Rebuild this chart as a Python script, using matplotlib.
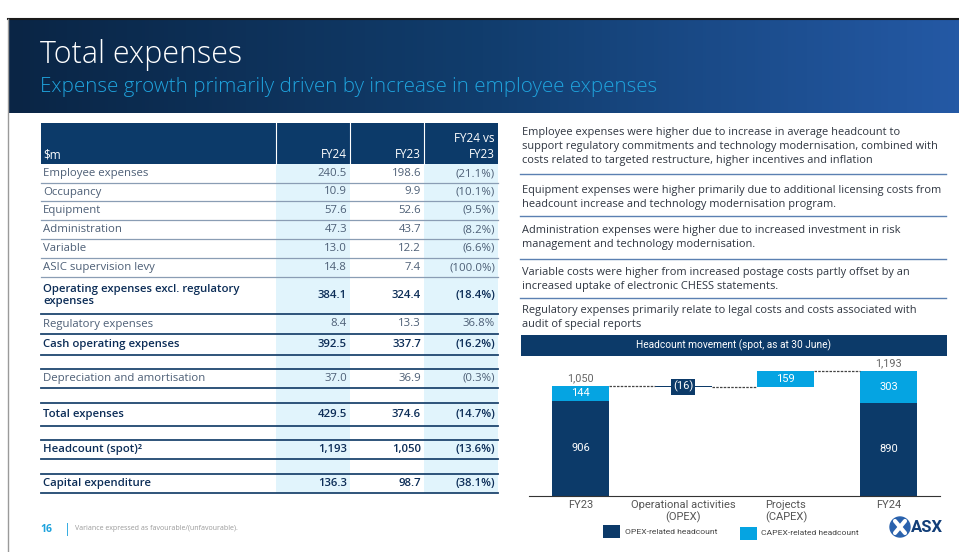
import numpy as np
import matplotlib
matplotlib.use('Agg')
import matplotlib.pyplot as plt
from matplotlib.colors import LinearSegmentedColormap
from matplotlib.patches import Rectangle, Circle

plt.rcParams['font.family'] = ['Open Sans', 'DejaVu Sans']

NAVY = '#0c3a69'
LBLUE = '#05a4e2'
SHADE = '#e1f4fc'
GREY_TXT = '#4d5f76'

# ---- table data ----
row_labels = ['Employee expenses', 'Occupancy', 'Equipment', 'Administration', 'Variable',
              'ASIC supervision levy', 'Operating expenses excl. regulatory\nexpenses',
              'Regulatory expenses', 'Cash operating expenses', '',
              'Depreciation and amortisation', '', 'Total expenses', '',
              'Headcount (spot)²', '', 'Capital expenditure']
fy24 = [240.5, 10.9, 57.6, 47.3, 13.0, 14.8, 384.1, 8.4, 392.5, None, 37.0, None, 429.5, None, 1193, None, 136.3]
fy23 = [198.6, 9.9, 52.6, 43.7, 12.2, 7.4, 324.4, 13.3, 337.7, None, 36.9, None, 374.6, None, 1050, None, 98.7]
variance = [-21.1, -10.1, -9.5, -8.2, -6.6, -100.0, -18.4, 36.8, -16.2, None, -0.3, None, -14.7, None, -13.6, None, -38.1]
bold_rows = [6, 8, 12, 14, 16]

# ---- commentary ----
comments = [
    ['Employee expenses were higher due to increase in average headcount to',
     'support regulatory commitments and technology modernisation, combined with',
     'costs related to targeted restructure, higher incentives and inflation'],
    ['Equipment expenses were higher primarily due to additional licensing costs from',
     'headcount increase and technology modernisation program.'],
    ['Administration expenses were higher due to increased investment in risk',
     'management and technology modernisation.'],
    ['Variable costs were higher from increased postage costs partly offset by an',
     'increased uptake of electronic CHESS statements.'],
    ['Regulatory expenses primarily relate to legal costs and costs associated with',
     'audit of special reports'],
]

# ---- headcount waterfall ----
categories = ['FY23', 'Operational activities\n(OPEX)', 'Projects\n(CAPEX)', 'FY24']
opex_hc = [906, -16, 0, 890]
capex_hc = [144, 0, 159, 303]

fig = plt.figure(figsize=(9.59, 5.52), dpi=100)
ax = fig.add_axes([0, 0, 1, 1])

# header band with gradient
cmap = LinearSegmentedColormap.from_list('hdr', ['#0a2545', '#113d6d', '#2459a5'])
ax.imshow(np.linspace(0, 1, 256).reshape(1, -1), extent=(8, 959, 113, 19), aspect='auto', cmap=cmap)
ax.set_xlim(0, 959)
ax.set_ylim(552, 0)
ax.axis('off')
ax.plot([8, 959], [19, 19], color='#1a1a1a', lw=1.5)
ax.plot([8, 8], [19, 552], color='#9a9a9a', lw=1)

ax.text(40, 63, 'Total expenses', color='white', fontsize=22, fontweight='light', va='baseline')
ax.text(40, 92, 'Expense growth primarily driven by increase in employee expenses',
        color='#1fa3dd', fontsize=14.8, fontweight='light', va='baseline')

# table
col_x = [41, 276, 350, 424, 498]
ax.add_patch(Rectangle((41, 123), 457, 41, color=NAVY, lw=0))
for x in col_x[1:4]:
    ax.plot([x, x], [123, 164], color='white', lw=0.8)
for x0, x1 in [(276, 350), (424, 498)]:
    ax.add_patch(Rectangle((x0, 164), x1 - x0, 329, color=SHADE, lw=0))
ax.text(43, 155, '$m', color='white', fontsize=8.5, va='center')
ax.text(347, 155, 'FY24', color='white', fontsize=8.5, va='center', ha='right')
ax.text(421, 155, 'FY23', color='white', fontsize=8.5, va='center', ha='right')
ax.text(495, 139, 'FY24 vs', color='white', fontsize=8.5, va='center', ha='right')
ax.text(495, 155, 'FY23', color='white', fontsize=8.5, va='center', ha='right')

row_edges = [164, 183, 201, 220, 239, 258, 277, 314, 334, 355, 369, 388, 403, 426, 440, 459, 474, 493]


def fmt_num(v):
    if v is None:
        return ''
    if v >= 1000:
        return f'{v:,.0f}'
    return f'{v:.1f}'


def fmt_var(v):
    if v is None:
        return ''
    return f'({abs(v):.1f}%)' if v < 0 else f'{v:.1f}%'


for i, lab in enumerate(row_labels):
    yc = (row_edges[i] + row_edges[i + 1]) / 2
    b = i in bold_rows
    c = '#0c2d57' if b else GREY_TXT
    w = 'semibold' if b else 'normal'
    ax.text(43, yc, lab, color=c, fontsize=8.2, fontweight=w, va='center', linespacing=1.15)
    ax.text(347, yc, fmt_num(fy24[i]), color=c, fontsize=8.2, fontweight=w, va='center', ha='right')
    ax.text(421, yc, fmt_num(fy23[i]), color=c, fontsize=8.2, fontweight=w, va='center', ha='right')
    ax.text(495, yc, fmt_var(variance[i]), color=c, fontsize=8.2, fontweight=w, va='center', ha='right')

for y in row_edges[1:]:
    if y < 300:
        ax.plot([41, 498], [y, y], color='#8a9db4', lw=0.9)
    else:
        ax.plot([41, 498], [y, y], color='#1f466f', lw=1.3)

# commentary
para_y = [133, 190, 231, 273, 310]
for lines, y0 in zip(comments, para_y):
    for k, line in enumerate(lines):
        ax.text(522, y0 + k * 14, line, color='#2e3540', fontsize=7.9, va='center')
for y in [174, 216, 259, 298]:
    ax.plot([520, 946], [y, y], color='#5b80b2', lw=1)

cf = ['Roboto', 'DejaVu Sans']

# chart title band
ax.add_patch(Rectangle((521, 335), 426, 21, color=NAVY, lw=0))
ax.text(734, 345.5, 'Headcount movement (spot, as at 30 June)', color='white', fontsize=7.3,
        ha='center', va='center', family=cf)

# legend
ax.add_patch(Rectangle((603, 525), 17, 13, color=NAVY, lw=0))
ax.text(625, 532, 'OPEX-related headcount', color='#444444', fontsize=6.1, va='center', family=cf)
ax.add_patch(Rectangle((740, 527), 17, 13, color=LBLUE, lw=0))
ax.text(761, 533, 'CAPEX-related headcount', color='#444444', fontsize=6.1, va='center', family=cf)

# footer
ax.text(40, 529, '16', color='#1fa3dd', fontsize=7.5, fontweight='bold', va='center')
ax.text(64, 529, '|', color='#1fa3dd', fontsize=9, va='center')
ax.text(75, 529, 'Variance expressed as favourable/(unfavourable).', color='#999999', fontsize=5, va='center')

# logo
ax.add_patch(Circle((900, 527), 10, color='#2a62ad'))
ax.plot([895, 905], [521, 533], color='white', lw=3, solid_capstyle='round')
ax.plot([895, 905], [533, 521], color='white', lw=3, solid_capstyle='round')
ax.text(911, 528, 'ASX', color='#123e78', fontsize=12, fontweight='bold', va='center', family=cf)

# ---- waterfall chart ----
W, H = 959, 552
cax = fig.add_axes([529 / W, (H - 496) / H, 411 / W, 140 / H])
cax.set_xlim(-0.5, 3.5)
cax.set_ylim(0, 1333)
bw = 0.555
x = np.arange(len(categories))

running = opex_hc[0] + capex_hc[0]
cax.bar(0, opex_hc[0], bw, color=NAVY)
cax.bar(0, capex_hc[0], bw, bottom=opex_hc[0], color=LBLUE)
# OPEX movement
step_bottom = running + min(opex_hc[1], 0)
cax.bar(1, abs(opex_hc[1]), bw, bottom=step_bottom, color=NAVY)
running += opex_hc[1]
# CAPEX movement
cax.bar(2, capex_hc[2], bw, bottom=running, color=LBLUE)
proj_bottom = running
running += capex_hc[2]
cax.bar(3, opex_hc[3], bw, color=NAVY)
cax.bar(3, capex_hc[3], bw, bottom=opex_hc[3], color=LBLUE)

txt_kw = dict(ha='center', va='center', color='white', fontsize=8, family=cf)
cax.text(0, opex_hc[0] / 2, f'{opex_hc[0]}', **txt_kw)
cax.text(0, opex_hc[0] + capex_hc[0] / 2, f'{capex_hc[0]}', **txt_kw)
cax.text(3, opex_hc[3] / 2, f'{opex_hc[3]}', **txt_kw)
cax.text(3, opex_hc[3] + capex_hc[3] / 2, f'{capex_hc[3]}', **txt_kw)
cax.text(2, proj_bottom + capex_hc[2] / 2, f'{capex_hc[2]}', **txt_kw)
cax.text(1, step_bottom + abs(opex_hc[1]) / 2, f'({abs(opex_hc[1])})', ha='center', va='center',
         color='white', fontsize=8, family=cf,
         bbox=dict(boxstyle='square,pad=0.2', fc=NAVY, ec='none'))

tot23 = opex_hc[0] + capex_hc[0]
tot24 = opex_hc[3] + capex_hc[3]
cax.text(0, tot23 + 20, f'{tot23:,}', ha='center', va='bottom', color='#666666', fontsize=7.8, family=cf)
cax.text(3, tot24 + 20, f'{tot24:,}', ha='center', va='bottom', color='#666666', fontsize=7.8, family=cf)

# connectors
dash = dict(color='#444444', lw=0.9, ls=(0, (2, 1)))
cax.plot([bw / 2, 1 - bw / 2], [tot23, tot23], **dash)
cax.plot([1 + bw / 2, 2 - bw / 2], [step_bottom, step_bottom], **dash)
cax.plot([2 + bw / 2, 3 - bw / 2], [running, running], **dash)

for s in ['top', 'right', 'left']:
    cax.spines[s].set_visible(False)
cax.spines['bottom'].set_color('#333333')
cax.spines['bottom'].set_linewidth(0.8)
cax.set_yticks([])
cax.set_xticks(x)
cax.set_xticklabels(categories, fontsize=8, color='#555555', family=cf, linespacing=1.1)
cax.tick_params(axis='x', length=0, pad=3)
cax.patch.set_alpha(0)

fig.savefig('out.png', dpi=100)
